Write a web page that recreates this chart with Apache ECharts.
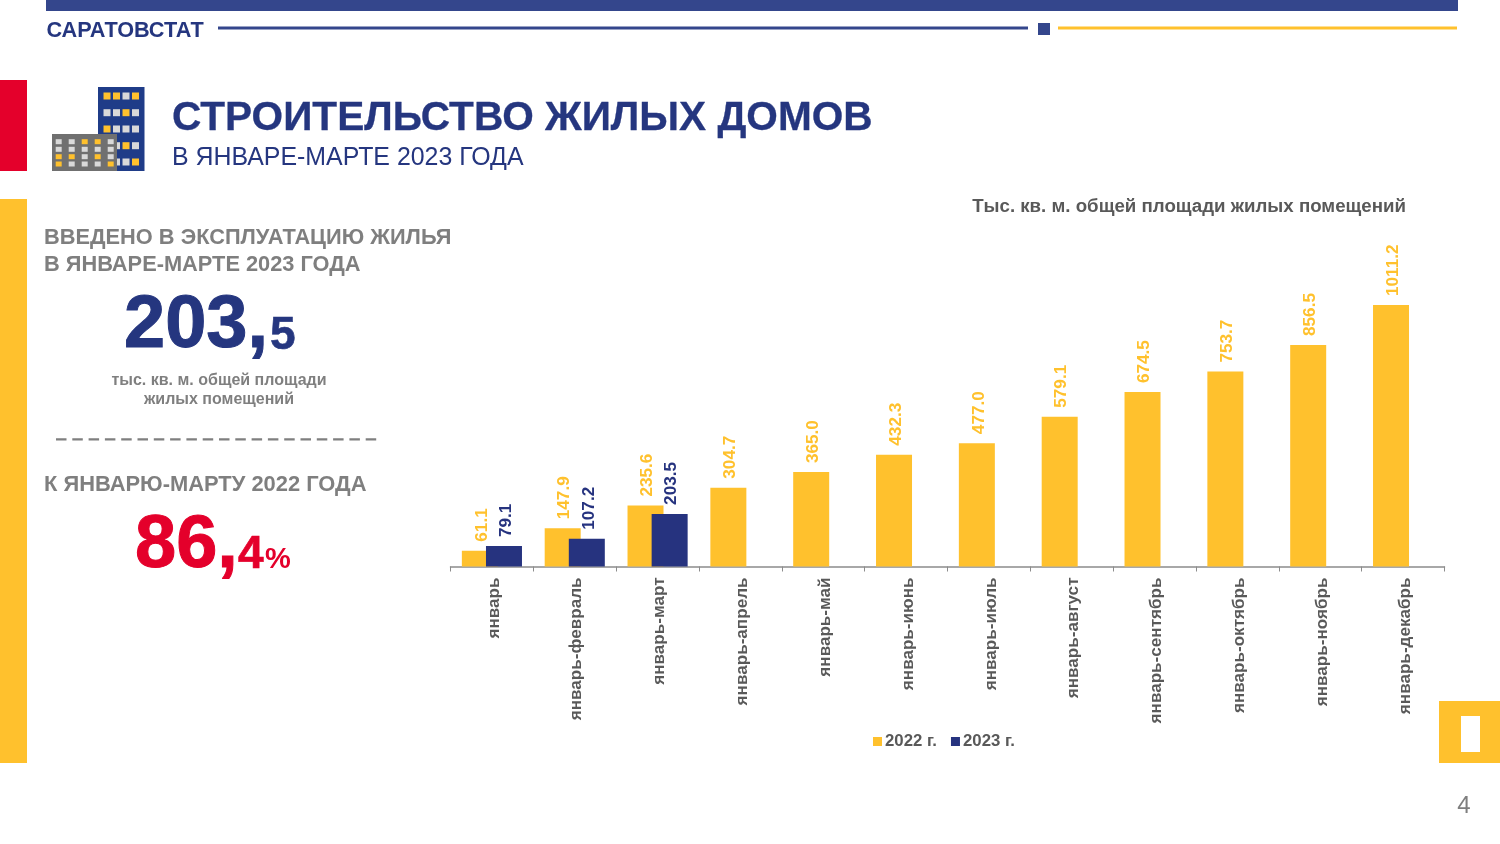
<!DOCTYPE html>
<html><head><meta charset="utf-8">
<style>html,body{margin:0;padding:0;background:#fff}#c{width:1500px;height:844px}</style>
<script src="https://cdn.jsdelivr.net/npm/echarts@6/dist/echarts.min.js"></script>
</head><body><div id="c"></div>
<script>
const categories = ['январь','январь-февраль','январь-март','январь-апрель','январь-май','январь-июнь','январь-июль','январь-август','январь-сентябрь','январь-октябрь','январь-ноябрь','январь-декабрь'];
const values2022 = [61.1,147.9,235.6,304.7,365.0,432.3,477.0,579.1,674.5,753.7,856.5,1011.2];
const values2023 = [79.1,107.2,203.5,null,null,null,null,null,null,null,null,null];
const names = ['2022 г.','2023 г.'];
const NAVY='#25367F', BAR='#26337F', TOP='#34468C', YEL='#FFC12D', RED='#E4002B', GREY='#7F7F7F', DK='#595959';
const FF='"Liberation Sans",Arial,sans-serif';
const chart = echarts.init(document.getElementById('c'),null,{renderer:'canvas'});
const rect=(x,y,w,h,fill)=>({type:'rect',shape:{x,y,width:w,height:h},style:{fill},silent:true});
const txt=(x,y,text,size,fill,bold,align,sw)=>({type:'text',x,y,style:{text,fill,font:(bold?'bold ':'')+size+'px '+FF,textAlign:align||'left',textVerticalAlign:'middle',stroke:sw?fill:null,lineWidth:sw||0},silent:true});
const g=[
 rect(46,0,1412,11,TOP), rect(218,26.5,810,3,TOP), rect(1038,23,12,12,TOP), rect(1058,26.5,399,3,YEL),
 rect(0,80,27,91,RED), rect(0,199,27,564,YEL),
 rect(1439,701,61,62,YEL), rect(1461,716,19,36,'#fff'),
 rect(98,87,46.5,84,'#1F3C88'),
 txt(46.5,31.5,'САРАТОВСТАТ',21.7,NAVY,true),
 txt(172,119,'СТРОИТЕЛЬСТВО ЖИЛЫХ ДОМОВ',40.6,NAVY,true,'left',0.3),
 txt(172,158,'В ЯНВАРЕ-МАРТЕ 2023 ГОДА',24.9,NAVY,false),
 txt(1406,207,'Тыс. кв. м. общей площади жилых помещений',18.7,DK,true,'right'),
 txt(44,238,'ВВЕДЕНО В ЭКСПЛУАТАЦИЮ ЖИЛЬЯ',21.8,GREY,true),
 txt(44,265,'В ЯНВАРЕ-МАРТЕ 2023 ГОДА',21.8,GREY,true),
 txt(124,327,'203,',74,NAVY,true,'left',1),
 txt(270,336,'5',46,NAVY,true,'left',0.6),
 txt(219,381,'тыс. кв. м. общей площади',16,GREY,true,'center'),
 txt(219,400,'жилых помещений',16,GREY,true,'center'),
 txt(44,485,'К ЯНВАРЮ-МАРТУ 2022 ГОДА',21.9,GREY,true),
 txt(135,547,'86,',74,RED,true,'left',1),
 txt(238,555,'4',46,RED,true,'left',0.6),
 txt(265,560,'%',29,RED,true),
 txt(1464,806,'4',24,'#7F7F7F',false,'center'),
 {type:'line',shape:{x1:56,y1:439.3,x2:378,y2:439.3},style:{stroke:GREY,lineWidth:2.3,lineDash:[10.5,5.8]},silent:true}
];
const winA=[YEL,YEL,'#D9D9D9',YEL,'#D9D9D9','#D9D9D9',YEL,'#D9D9D9',YEL,'#D9D9D9','#D9D9D9','#D9D9D9','#D9D9D9','#D9D9D9',YEL,'#D9D9D9','#D9D9D9','#D9D9D9','#D9D9D9',YEL];
[107,116.5,126,135.5].forEach((cx,i)=>[96,112.7,129,145.7,162].forEach((cy,j)=>{g.push(rect(cx-3.5,cy-3.5,7,7,winA[(j*4+i)%20]));}));
g.push(rect(52,134,65,37,'#707070'));
const winB=['#D9D9D9','#D9D9D9',YEL,YEL,'#D9D9D9','#D9D9D9','#D9D9D9','#D9D9D9','#D9D9D9','#D9D9D9',YEL,YEL,'#D9D9D9',YEL,'#D9D9D9',YEL,'#D9D9D9','#D9D9D9','#D9D9D9',YEL];
[58.7,71.7,84.7,97.7,110.7].forEach((cx,i)=>[141.7,149.3,156.7,164].forEach((cy,j)=>{g.push(rect(cx-3,cy-2.5,6,5,winB[(j*5+i)%20]));}));
const lab=(color)=>({show:true,position:'top',rotate:90,align:'left',verticalAlign:'middle',distance:9,offset:[0,2],color,fontFamily:FF,fontWeight:'bold',fontSize:17.2,formatter:p=>p.value==null?'':p.value.toFixed(1)});
chart.setOption({
 animation:false,
 backgroundColor:'#fff',
 graphic:g,
 grid:{left:450.5,width:994,top:204.5,height:362,containLabel:false},
 legend:{left:868,top:728,itemWidth:9,itemHeight:9,itemGap:14,icon:'rect',data:names,textStyle:{fontFamily:FF,fontWeight:'bold',fontSize:16.8,color:DK,padding:[0,0,0,-2]}},
 xAxis:{type:'category',data:categories,boundaryGap:true,
  axisLine:{lineStyle:{color:'#8C8C8C',width:1.5}},axisTick:{show:true,alignWithLabel:false,length:5,lineStyle:{color:'#8C8C8C'}},
  axisLabel:{rotate:90,interval:0,margin:11,verticalAlign:'top',lineHeight:4,color:DK,fontFamily:FF,fontWeight:'bold',fontSize:17.1}},
 yAxis:{type:'value',min:0,max:1400,show:false,splitLine:{show:false}},
 series:[
  {name:names[0],type:'bar',data:values2022,barWidth:36,barGap:'-33%',itemStyle:{color:YEL},label:lab(YEL)},
  {name:names[1],type:'bar',data:values2023,barWidth:36,itemStyle:{color:BAR},label:lab(BAR)}
 ]
});
</script></body></html>
